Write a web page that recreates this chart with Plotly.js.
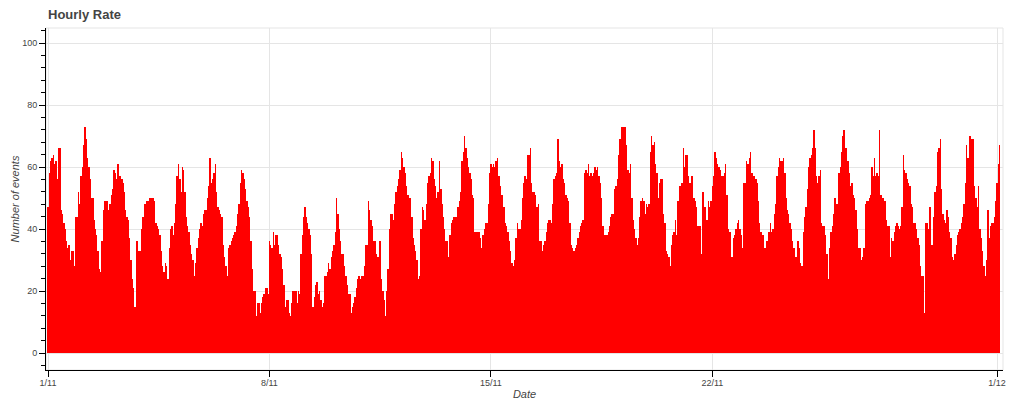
<!DOCTYPE html>
<html>
<head>
<meta charset="utf-8">
<script src="https://cdn.plot.ly/plotly-3.0.1.min.js"></script>
<style>
html,body{margin:0;padding:0;background:#ffffff;}
#chart{width:1024px;height:405px;}
</style>
</head>
<body>
<div id="chart"></div>
<script>
// Hourly event counts, one array per day (hours 00..23)
const nov01 = [47,58,62,63,64,61,62,56,66,66,46,45,42,40,36,34,35,30,33,33,28,44,44,52];
const nov02 = [48,57,60,67,73,69,63,60,56,50,50,43,40,38,33,27,26,36,46,49,49,49,46,48];
const nov03 = [51,53,59,58,56,61,57,57,56,55,52,46,44,43,37,30,24,21,15,36,36,33,33,40];
const nov04 = [44,48,48,49,49,50,50,50,50,49,42,41,40,38,33,28,26,29,28,24,34,40,41,38];
const nov05 = [42,48,57,61,56,52,60,59,52,44,41,39,35,32,30,25,29,34,37,40,42,41,45,46];
const nov06 = [46,50,54,63,55,56,58,61,52,47,46,45,44,35,31,28,25,34,35,36,37,38,39,41];
const nov07 = [45,48,55,59,58,56,53,49,47,44,36,27,20,20,12,16,16,13,16,18,19,21,21,19];
const nov08 = [36,35,34,39,35,38,38,35,32,31,27,22,15,17,17,13,12,16,20,20,20,16,20,19];
const nov09 = [32,38,44,47,44,42,40,38,32,15,18,22,23,19,20,17,15,16,25,25,26,29,27,31];
const nov10 = [33,35,39,50,45,40,36,32,32,28,25,22,19,19,13,15,16,18,21,24,25,24,25,25];
const nov11 = [28,35,35,49,46,43,41,36,36,32,31,31,36,24,20,17,12,20,27,40,45,45,43,48];
const nov12 = [52,54,56,59,65,63,60,58,54,51,50,50,44,37,35,33,30,24,25,40,47,46,43,48];
const nov13 = [55,57,58,63,62,56,54,50,52,62,53,48,44,40,36,36,31,38,42,43,44,44,44,47];
const nov14 = [49,52,62,65,70,66,63,60,58,56,51,50,39,39,39,39,37,34,38,40,42,42,48,58];
const nov15 = [61,60,61,60,62,63,57,54,51,51,47,42,41,39,36,33,29,28,30,37,42,40,40,43];
const nov16 = [50,55,57,56,64,64,66,55,52,52,51,47,48,36,36,33,35,36,39,42,43,43,42,48];
const nov17 = [56,57,58,69,62,60,61,56,55,51,50,49,42,35,34,33,34,35,37,39,41,42,43,58];
const nov18 = [59,58,61,57,58,57,58,60,59,60,57,55,50,41,38,38,38,39,41,44,45,45,53,54];
const nov19 = [56,64,69,73,73,73,73,67,59,58,61,50,43,40,37,35,37,44,49,50,49,45,48,47];
const nov20 = [48,65,70,67,68,61,58,50,55,56,56,45,42,33,32,31,28,35,38,39,43,38,49,54];
const nov21 = [54,55,66,60,64,64,57,55,57,57,50,49,47,41,41,41,32,52,47,47,43,49,47,49];
const nov22 = [54,57,65,63,61,60,59,57,57,58,61,51,40,39,39,31,37,38,40,42,43,40,38,34];
const nov23 = [55,55,62,61,63,65,58,57,57,56,55,49,42,39,38,38,34,36,36,39,42,39,40,45];
const nov24 = [48,57,60,63,62,62,63,58,50,46,45,42,40,36,34,31,31,36,34,29,28,39,44,47];
const nov25 = [53,60,63,64,66,72,66,57,55,57,59,42,41,41,38,32,24,34,39,41,45,50,48,48];
const nov26 = [58,60,65,70,72,66,66,62,58,54,55,51,50,46,40,34,34,30,31,34,48,49,49,50];
const nov27 = [51,60,57,63,57,58,57,72,51,50,50,49,43,41,41,31,37,36,39,41,42,41,40,41];
const nov28 = [47,64,59,58,56,55,54,48,47,42,42,40,37,35,28,25,25,13,42,42,40,47,35,35];
const nov29 = [44,52,54,65,66,69,53,45,43,42,46,44,39,37,31,30,32,35,38,39,40,42,44,48];
const nov30 = [55,67,63,70,70,69,69,54,50,47,54,40,37,33,28,25,30,46,37,41,42,42,44,49];
const dec01 = [55,61,67];

const dailyArrays = [nov01,nov02,nov03,nov04,nov05,nov06,nov07,nov08,nov09,nov10,
  nov11,nov12,nov13,nov14,nov15,nov16,nov17,nov18,nov19,nov20,
  nov21,nov22,nov23,nov24,nov25,nov26,nov27,nov28,nov29,nov30,dec01];

const tickLabels = ["1/11","8/11","15/11","22/11","1/12"];
const tickDayOffsets = [0,7,14,21,30];

const HOUR = 3600000;
const DAY = 24*HOUR;
const startMs = Date.UTC(2017,10,1,0,0,0);

const counts = [].concat(...dailyArrays);
const times = counts.map((_, i) => startMs + i*HOUR);

const FONT = 'Liberation Sans, Arial, Helvetica, sans-serif';

const trace = {
  type: 'bar',
  x: times,
  y: counts,
  width: HOUR*1.05,
  marker: {color: '#ff0000', line: {width: 0}},
  hoverinfo: 'x+y'
};

const layout = {
  width: 1024, height: 405,
  margin: {l: 46, r: 21, t: 28, b: 35, pad: 0},
  paper_bgcolor: '#ffffff', plot_bgcolor: '#ffffff',
  showlegend: false,
  bargap: 0,
  font: {family: FONT, color: '#444444'},
  title: {
    text: '<b>Hourly Rate</b>',
    font: {family: FONT, size: 13, color: '#444444'},
    xref: 'container', yref: 'container',
    x: 48/1024, xanchor: 'left',
    y: 1 - 14/405, yanchor: 'middle'
  },
  xaxis: {
    type: 'date',
    range: [startMs - 1.52*HOUR, startMs + 724.5*HOUR],
    tickvals: tickDayOffsets.map(d => startMs + d*DAY),
    ticktext: tickLabels,
    ticks: 'outside', ticklen: 6, tickwidth: 1, tickcolor: '#000000',
    ticklabelstandoff: -2,
    showline: true, linecolor: '#000000', linewidth: 1,
    showgrid: true, gridcolor: '#e5e5e5', gridwidth: 1,
    zeroline: false,
    tickfont: {family: FONT, size: 9, color: '#444444'},
    title: {text: '<i>Date</i>', font: {family: FONT, size: 11, color: '#444444'}, standoff: 3},
    automargin: false,
    fixedrange: true
  },
  yaxis: {
    range: [-5.48, 104.84],
    tickmode: 'linear', tick0: 0, dtick: 20,
    ticks: 'outside', ticklen: 6, tickwidth: 1, tickcolor: '#000000',
    minor: {dtick: 4, tick0: 0, ticks: 'outside', ticklen: 4, tickcolor: '#000000', showgrid: false},
    showline: true, linecolor: '#000000', linewidth: 1,
    showgrid: true, gridcolor: '#e5e5e5', gridwidth: 1,
    zeroline: false,
    tickfont: {family: FONT, size: 9, color: '#444444'},
    title: {text: '<i>Number of events</i>', font: {family: FONT, size: 11, color: '#444444'}, standoff: 0},
    automargin: false,
    fixedrange: true
  },
  shapes: [{
    type: 'rect', xref: 'paper', yref: 'paper', x0: 0, x1: 1, y0: 0, y1: 1,
    line: {color: '#e5e5e5', width: 1}, layer: 'below'
  }]
};

Plotly.newPlot('chart', [trace], layout, {displayModeBar: false, staticPlot: true});
</script>
</body>
</html>
